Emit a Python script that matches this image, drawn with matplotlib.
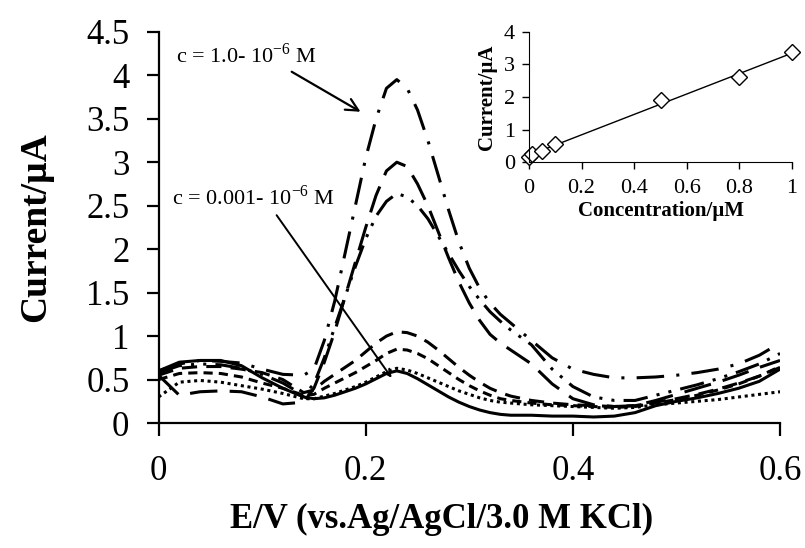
import matplotlib
matplotlib.use("Agg")
import matplotlib.pyplot as plt
import numpy as np

plt.rcParams['font.family'] = ['Liberation Serif', 'DejaVu Serif']
plt.rcParams['mathtext.fontset'] = 'custom'
plt.rcParams['mathtext.rm'] = 'Liberation Serif'

# potential grid (V)
E = [0.00, 0.02, 0.04, 0.06, 0.08, 0.10, 0.12, 0.14, 0.15, 0.16, 0.17, 0.18,
     0.19, 0.20, 0.21, 0.22, 0.23, 0.24, 0.25, 0.26, 0.27, 0.28, 0.29, 0.30,
     0.31, 0.32, 0.33, 0.34, 0.36, 0.38, 0.40, 0.42, 0.44, 0.46, 0.48, 0.50,
     0.52, 0.54, 0.56, 0.58, 0.60]

# currents (uA), lowest to highest concentration
i_0001 = [0.60, 0.70, 0.72, 0.72, 0.66, 0.52, 0.40, 0.30, 0.28, 0.29, 0.32, 0.36,
          0.40, 0.45, 0.51, 0.57, 0.60, 0.57, 0.51, 0.44, 0.37, 0.30, 0.24, 0.19,
          0.15, 0.12, 0.10, 0.09, 0.09, 0.08, 0.08, 0.07, 0.08, 0.12, 0.20, 0.25,
          0.29, 0.34, 0.40, 0.48, 0.62]
i_001 = [0.30, 0.47, 0.49, 0.47, 0.43, 0.39, 0.34, 0.28, 0.28, 0.31, 0.34, 0.38,
         0.42, 0.47, 0.53, 0.59, 0.63, 0.61, 0.57, 0.52, 0.47, 0.42, 0.37, 0.33,
         0.29, 0.26, 0.24, 0.23, 0.21, 0.20, 0.19, 0.18, 0.17, 0.18, 0.21, 0.23,
         0.25, 0.27, 0.30, 0.33, 0.36]
i_005 = [0.50, 0.57, 0.58, 0.57, 0.53, 0.46, 0.40, 0.32, 0.33, 0.40, 0.46, 0.52,
         0.58, 0.65, 0.72, 0.80, 0.85, 0.84, 0.80, 0.74, 0.66, 0.58, 0.50, 0.43,
         0.37, 0.32, 0.28, 0.26, 0.23, 0.21, 0.20, 0.19, 0.18, 0.19, 0.23, 0.27,
         0.32, 0.38, 0.45, 0.54, 0.65]
i_01 = [0.55, 0.63, 0.65, 0.65, 0.62, 0.58, 0.50, 0.35, 0.38, 0.48, 0.56, 0.64,
        0.72, 0.82, 0.92, 1.00, 1.05, 1.04, 1.00, 0.93, 0.84, 0.74, 0.64, 0.55,
        0.47, 0.40, 0.35, 0.31, 0.26, 0.23, 0.21, 0.20, 0.19, 0.20, 0.24, 0.28,
        0.33, 0.39, 0.46, 0.54, 0.64]
i_05 = [0.58, 0.66, 0.68, 0.67, 0.63, 0.56, 0.46, 0.32, 0.45, 0.75, 1.10, 1.45,
        1.80, 2.12, 2.38, 2.55, 2.64, 2.60, 2.50, 2.35, 2.15, 1.95, 1.75, 1.57,
        1.42, 1.28, 1.17, 1.07, 0.90, 0.62, 0.42, 0.30, 0.26, 0.26, 0.32, 0.38,
        0.44, 0.51, 0.59, 0.68, 0.80]
i_08 = [0.55, 0.32, 0.36, 0.37, 0.36, 0.30, 0.22, 0.24, 0.40, 0.70, 1.05, 1.45,
        1.85, 2.25, 2.62, 2.90, 3.00, 2.95, 2.75, 2.50, 2.20, 1.90, 1.62, 1.38,
        1.18, 1.02, 0.92, 0.84, 0.68, 0.45, 0.28, 0.21, 0.19, 0.20, 0.26, 0.33,
        0.40, 0.47, 0.55, 0.64, 0.72]
i_10 = [0.60, 0.68, 0.72, 0.71, 0.69, 0.62, 0.56, 0.55, 0.62, 0.95, 1.40, 1.95,
        2.50, 3.05, 3.50, 3.85, 3.95, 3.85, 3.60, 3.25, 2.85, 2.45, 2.08, 1.78,
        1.55, 1.38, 1.25, 1.15, 0.95, 0.75, 0.62, 0.56, 0.52, 0.52, 0.53, 0.55,
        0.58, 0.62, 0.68, 0.78, 0.92]

curves = [i_0001, i_001, i_005, i_01, i_05, i_08, i_10]
styles = ['-', (0, (1, 1.2)), (0, (3, 2)), (0, (5, 3)),
          (0, (8, 3, 1, 3, 1, 3)), (0, (9, 4)), (0, (9, 4, 1, 4))]

# calibration (inset)
conc = [0.001, 0.01, 0.05, 0.1, 0.5, 0.8, 1.0]
peak = [0.17, 0.25, 0.35, 0.55, 1.90, 2.60, 3.38]

y_ticks = [0, 0.5, 1, 1.5, 2, 2.5, 3, 3.5, 4, 4.5]
y_labels = ['0', '0.5', '1', '1.5', '2', '2.5', '3', '3.5', '4', '4.5']
x_ticks = [0, 0.2, 0.4, 0.6]
x_labels = ['0', '0.2', '0.4', '0.6']

fig = plt.figure(figsize=(8.05, 5.48), dpi=100)
ax = fig.add_axes([0.197, 0.228, 0.772, 0.714])

for y, ls in zip(curves, styles):
    ax.plot(E, y, color='black', linestyle=ls, linewidth=2.2)

ax.set_xlim(0, 0.6)
ax.set_ylim(0, 4.5)
ax.set_xticks(x_ticks)
ax.set_xticklabels(x_labels)
ax.set_yticks(y_ticks)
ax.set_yticklabels(y_labels)
ax.spines['top'].set_visible(False)
ax.spines['right'].set_visible(False)
for s in ['left', 'bottom']:
    ax.spines[s].set_linewidth(1.6)
ax.tick_params(direction='out', length=9, width=1.6, labelsize=25)
ax.tick_params(axis='y', pad=12)
ax.tick_params(axis='x', pad=14)
ax.set_xlabel('E/V (vs.Ag/AgCl/3.0 M KCl)', fontsize=25, fontweight='bold')
ax.xaxis.set_label_coords(0.455, -0.205)
ax.set_ylabel('Current/\u00b5A', fontsize=27, fontweight='bold', labelpad=24)

ax.annotate('c = 1.0- 10$^{-6}$ M', xy=(0.195, 3.58), xytext=(0.017, 4.23),
            fontsize=16, va='center',
            arrowprops=dict(arrowstyle='->', color='black', lw=1.6,
                            mutation_scale=22, shrinkA=2, shrinkB=0,
                            relpos=(0.77, 0.0)))
ax.annotate('c = 0.001- 10$^{-6}$ M', xy=(0.225, 0.52), xytext=(0.013, 2.59),
            fontsize=16, va='center',
            arrowprops=dict(arrowstyle='->', color='black', lw=1.4,
                            mutation_scale=12, shrinkA=2, shrinkB=0,
                            relpos=(0.62, 0.0)))

# inset calibration plot
ins = fig.add_axes([0.657, 0.704, 0.327, 0.238])
slope, icpt = np.polyfit(conc, peak, 1)
xf = np.array([0, 1.0])
ins.plot(xf, slope * xf + icpt, color='black', linewidth=1.0)
ins.plot(conc, peak, linestyle='none', marker='D', markersize=8, clip_on=False,
         markerfacecolor='white', markeredgecolor='black', markeredgewidth=1.0)
ins.set_xlim(0, 1)
ins.set_ylim(0, 4)
ins.set_xticks([0, 0.2, 0.4, 0.6, 0.8, 1])
ins.set_xticklabels(['0', '0.2', '0.4', '0.6', '0.8', '1'])
ins.set_yticks([0, 1, 2, 3, 4])
ins.spines['top'].set_visible(False)
ins.spines['right'].set_visible(False)
ins.tick_params(direction='out', length=5, width=1.0, labelsize=16)
ins.tick_params(axis='x', pad=7)
ins.tick_params(axis='y', pad=5)
ins.set_xlabel('Concentration/\u00b5M', fontsize=15, fontweight='bold', labelpad=2)
ins.set_ylabel('Current/\u00b5A', fontsize=15, fontweight='bold', labelpad=5)

fig.savefig('out.png', dpi=100)
